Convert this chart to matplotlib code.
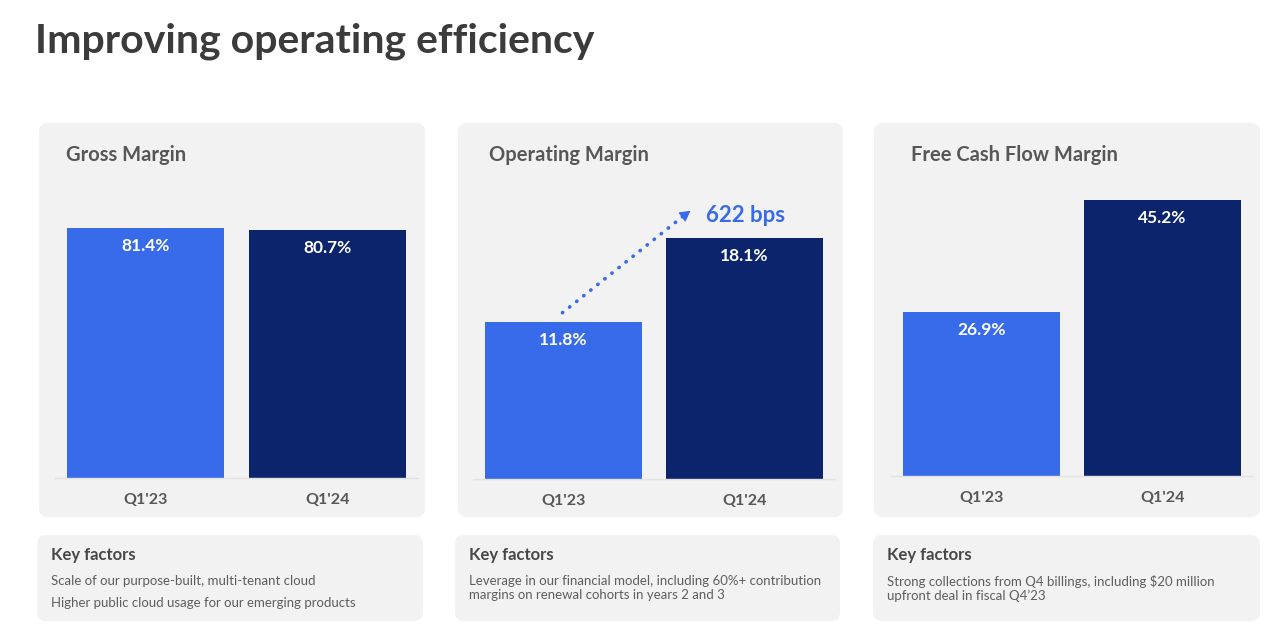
import matplotlib
matplotlib.use("Agg")
import matplotlib.pyplot as plt
from matplotlib.patches import FancyBboxPatch
from matplotlib.transforms import offset_copy

plt.rcParams['font.family'] = ['Lato', 'DejaVu Sans']

# ---------------- data ----------------
title = "Improving operating efficiency"
panel_titles = ["Gross Margin", "Operating Margin", "Free Cash Flow Margin"]
categories = ["Q1'23", "Q1'24"]
gross_margin = [81.4, 80.7]
operating_margin = [11.8, 18.1]
fcf_margin = [26.9, 45.2]
change_label = "622 bps"
key_factors_title = "Key factors"
key_factors = [
    ["Scale of our purpose-built, multi-tenant cloud",
     "Higher public cloud usage for our emerging products"],
    ["Leverage in our financial model, including 60%+ contribution\nmargins on renewal cohorts in years 2 and 3"],
    ["Strong collections from Q4 billings, including $20 million\nupfront deal in fiscal Q4\u201923"],
]
series = [gross_margin, operating_margin, fcf_margin]

# ---------------- style / layout ----------------
W, H = 1280, 635
C_LIGHT = "#386BEA"
C_DARK = "#0B246C"
C_PANEL = "#F2F2F2"
C_TITLE = "#3B3B3B"
C_SUB = "#575757"
C_BODY = "#5E5E5E"

# panel boxes (x0, x1) and chart axes geometry (left, right, baseline, ylim_top)
panel_x = [(39, 425), (458, 843), (874, 1260)]
kf_x = [(37, 423), (455, 840), (873, 1260)]
axes_geo = [(55, 418, 478, 97.0), (473, 835, 479, 22.43), (891, 1253, 476, 48.5)]
title_x = [66, 489, 911]
AX_TOP = 180

fig = plt.figure(figsize=(W / 100, H / 100), dpi=100)
fig.patch.set_facecolor("white")

bg = fig.add_axes([0, 0, 1, 1])
bg.set_xlim(0, W)
bg.set_ylim(H, 0)
bg.axis("off")

bg.text(35, 41, title, fontsize=29.5, fontweight="bold", color=C_TITLE,
        ha="left", va="center")

for i in range(3):
    x0, x1 = panel_x[i]
    bg.add_patch(FancyBboxPatch((x0, 123), x1 - x0, 517 - 123,
                                boxstyle="round,pad=0,rounding_size=9",
                                fc=C_PANEL, ec="none"))
    k0, k1 = kf_x[i]
    bg.add_patch(FancyBboxPatch((k0, 535), k1 - k0, 621 - 535,
                                boxstyle="round,pad=0,rounding_size=9",
                                fc=C_PANEL, ec="none"))
    bg.text(title_x[i], 155, panel_titles[i], fontsize=14.5, fontweight="bold",
            color=C_SUB, ha="left", va="center")
    bg.text(k0 + 14, 555, key_factors_title, fontsize=12, fontweight="bold",
            color="#474747", ha="left", va="center")
    y = 581
    for line in key_factors[i]:
        bg.text(k0 + 14, y - 6, line, fontsize=9.5, color=C_BODY,
                ha="left", va="top", linespacing=1.2)
        y += 22

for i in range(3):
    left, right, base, ytop = axes_geo[i]
    ax = fig.add_axes([left / W, (H - base) / H, (right - left) / W, (base - AX_TOP) / H])
    ax.set_facecolor("none")
    vals = series[i]
    ax.bar([0, 1], vals, width=0.865, color=[C_LIGHT, C_DARK], zorder=2)
    ax.set_xlim(-0.5, 1.5)
    ax.set_ylim(0, ytop)
    for s in ["top", "left", "right"]:
        ax.spines[s].set_visible(False)
    ax.spines["bottom"].set_color("#E2E2E2")
    ax.spines["bottom"].set_linewidth(1)
    ax.set_yticks([])
    ax.set_xticks([0, 1])
    ax.set_xticklabels(categories, fontsize=11.5, fontweight="bold", color=C_SUB)
    ax.tick_params(axis="x", length=0, pad=10.5)
    for j, v in enumerate(vals):
        ax.annotate(f"{v}%", xy=(j, v), xytext=(0, -18), textcoords="offset pixels",
                    ha="center", va="center", color="white", fontsize=12.5,
                    fontweight="bold")
    if i == 1:
        start_tr = offset_copy(ax.transData, fig=fig, x=-1, y=9, units="dots")
        end_tr = offset_copy(ax.transData, fig=fig, x=-62, y=21, units="dots")
        head_tr = offset_copy(ax.transData, fig=fig, x=-54, y=27, units="dots")
        ax.annotate("", xy=(1, vals[1]), xycoords=end_tr,
                    xytext=(0, vals[0]), textcoords=start_tr,
                    arrowprops=dict(arrowstyle="-", linestyle=(0, (0.1, 2.4)),
                                    lw=2.6, color=C_LIGHT, capstyle="round",
                                    shrinkA=0, shrinkB=0))
        ax.annotate("", xy=(1, vals[1]), xycoords=head_tr,
                    xytext=(1, vals[1]), textcoords=end_tr,
                    arrowprops=dict(arrowstyle="-|>,head_length=0.55,head_width=0.3",
                                    lw=0.8, color=C_LIGHT, mutation_scale=12,
                                    shrinkA=0, shrinkB=0))
        ax.annotate(change_label, xy=(1, vals[1]), xytext=(-39, 22),
                    textcoords="offset pixels", ha="left", va="center",
                    color=C_LIGHT, fontsize=16, fontweight="bold")

fig.savefig("out.png", dpi=100, facecolor="white")
